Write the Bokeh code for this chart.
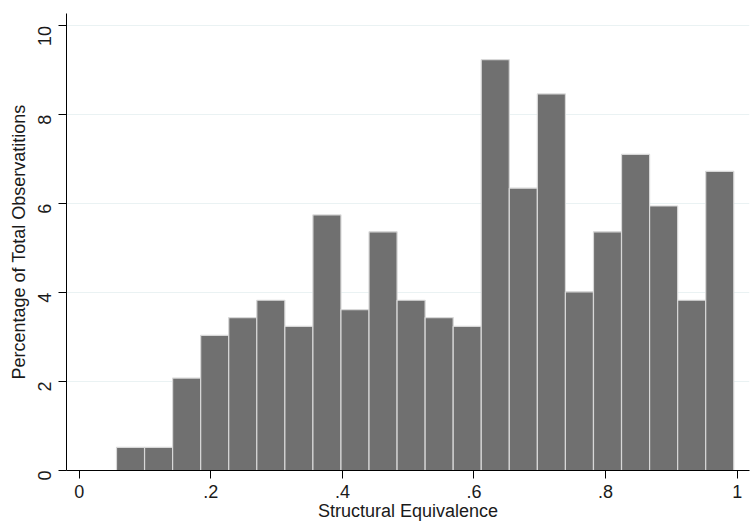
import math
import numpy as np
from bokeh.plotting import figure
from bokeh.models import Range1d, FixedTicker, ColumnDataSource
from bokeh.embed import file_html
from bokeh.resources import INLINE

# Histogram data (percentage of total observations per bin)
bin_start = 0.0567
bin_width = 0.04264
percentages = [0.52, 0.52, 2.08, 3.04, 3.44, 3.83, 3.24, 5.75, 3.62, 5.37, 3.83,
               3.44, 3.24, 9.24, 6.35, 8.47, 4.02, 5.37, 7.11, 5.95, 3.83, 6.73]

x_ticks = [0, 0.2, 0.4, 0.6, 0.8, 1.0]
x_tick_labels = ["0", ".2", ".4", ".6", ".8", "1"]
y_ticks = [0, 2, 4, 6, 8, 10]

lefts = bin_start + bin_width * np.arange(len(percentages))
src = ColumnDataSource(dict(left=lefts, right=lefts + bin_width,
                            top=percentages, bottom=[0] * len(percentages)))

FONT = "Liberation Sans"
TXT = "#1a1a1a"

p = figure(width=751, height=523, output_backend="svg", toolbar_location=None,
           x_range=Range1d(-0.0193, 1.0187), y_range=Range1d(0, 10.28),
           min_border_left=66, min_border_right=2, min_border_top=13, min_border_bottom=51,
           background_fill_color="white", border_fill_color="white")
p.outline_line_color = None

p.quad(left="left", right="right", top="top", bottom="bottom", source=src,
       fill_color="#707070", line_color="#d8d8d8", line_width=1.2)

p.xgrid.visible = False
p.ygrid.grid_line_color = "#eaf2f3"
p.ygrid.grid_line_width = 1.2

p.xaxis.ticker = FixedTicker(ticks=x_ticks)
p.xaxis.major_label_overrides = {t: l for t, l in zip(x_ticks, x_tick_labels)}
p.yaxis.ticker = FixedTicker(ticks=y_ticks)
p.yaxis.major_label_orientation = math.pi / 2

for ax in (p.xaxis[0], p.yaxis[0]):
    ax.axis_line_color = "black"
    ax.axis_line_width = 1
    ax.major_tick_line_color = "black"
    ax.major_tick_out = 8
    ax.major_tick_in = 0
    ax.minor_tick_line_color = None
    ax.major_label_text_font = FONT
    ax.major_label_text_font_size = "18px"
    ax.major_label_text_color = TXT
    ax.axis_label_text_font = FONT
    ax.axis_label_text_font_size = "18px"
    ax.axis_label_text_font_style = "normal"
    ax.axis_label_text_color = TXT
    ax.axis_label_standoff = 0

p.xaxis.major_label_standoff = 6
p.yaxis.major_label_standoff = 14

p.xaxis.axis_label = "Structural Equivalence"
p.yaxis.axis_label = "Percentage of Total Observatitions"

open("out.html", "w").write(file_html(p, INLINE))
